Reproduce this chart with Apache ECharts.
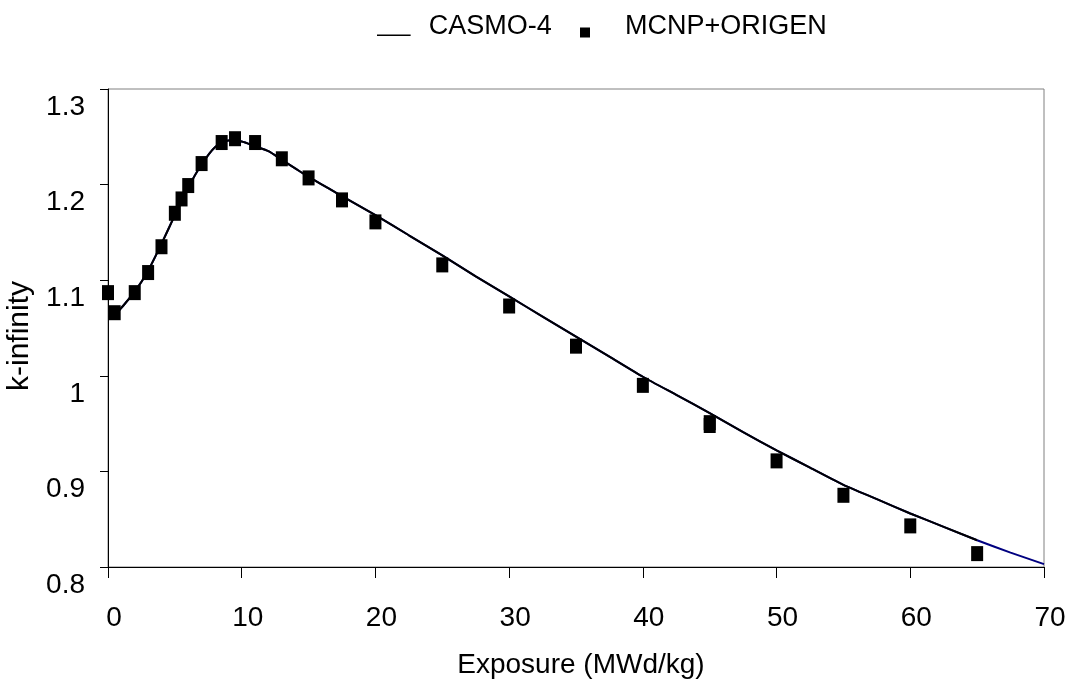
<!DOCTYPE html>
<html>
<head>
<meta charset="utf-8">
<script src="https://cdn.jsdelivr.net/npm/echarts@6/dist/echarts.min.js"></script>
<style>
html,body{margin:0;padding:0;background:#fff;}
#chart{width:1068px;height:684px;}
</style>
</head>
<body>
<div id="chart"></div>
<script>
// CASMO-4 curve (exposure MWd/kg, k-infinity)
var casmoX = [0.5,1,2,3,4,5,6,7,8,9,10,11,12,13,14,15,17.5,20,22.5,25,27.5,30,32.5,35,37.5,40,42.5,45,47.5,50,52.5,55,57.5,60,62.5,65,67.5,70];
var casmoK = [1.063,1.071,1.088,1.110,1.138,1.168,1.197,1.221,1.239,1.246,1.245,1.240,1.235,1.226,1.217,1.208,1.188,1.168,1.147,1.126,1.104,1.083,1.062,1.041,1.020,0.999,0.980,0.961,0.941,0.922,0.904,0.886,0.871,0.856,0.842,0.828,0.815,0.803];
// MCNP+ORIGEN points
var mcnpX = [0,0.5,2,3,4,5,5.5,6,7,8.5,9.5,11,13,15,17.5,20,25,30,35,40,45,45,50,55,60,65];
var mcnpK = [1.087,1.066,1.087,1.108,1.135,1.170,1.185,1.199,1.222,1.244,1.248,1.244,1.227,1.207,1.184,1.161,1.116,1.073,1.031,0.990,0.951,0.948,0.911,0.875,0.843,0.814];
var xTicks = {min:0, max:70, interval:10};
var yTicks = {min:0.8, max:1.3, interval:0.1};

var FONT = 'Liberation Sans';
function pairs(xs, ys, upto){
  var out=[];
  for(var i=0;i<xs.length;i++){ if(upto===undefined || xs[i]<=upto) out.push([xs[i], ys[i]]); }
  return out;
}
var chart = echarts.init(document.getElementById('chart'), null, {renderer:'canvas'});
chart.setOption({
  animation:false,
  backgroundColor:'#fff',
  textStyle:{fontFamily:FONT},
  grid:{left:108, right:24, top:89, bottom:117, show:true, borderColor:'#808080', borderWidth:1,
    backgroundColor:'transparent', containLabel:false, outerBoundsMode:'none'},
  legend:[{
    left:377, top:12, padding:0, itemWidth:34, itemHeight:18, selectedMode:false,
    data:[{name:'CASMO-4', icon:'path://M0,0L0.02,0L0.02,0.02Z M0,16.8L34,16.8L34,18.2L0,18.2Z', itemStyle:{color:'#000'}}],
    textStyle:{fontFamily:FONT, fontSize:27, color:'#000', lineHeight:30, padding:[0,0,0,13]}
  },{
    left:580, top:12, padding:0, itemWidth:10, itemHeight:21, selectedMode:false,
    data:[{name:'MCNP+ORIGEN', icon:'path://M0,0L0.02,0L0.02,0.02Z M0,11L10,11L10,21L0,21Z', itemStyle:{color:'#000'}}],
    textStyle:{fontFamily:FONT, fontSize:27, color:'#000', lineHeight:30, padding:[0,0,0,30]}
  }],
  xAxis:{
    type:'value', min:xTicks.min, max:xTicks.max, interval:xTicks.interval,
    name:'Exposure (MWd/kg)', nameLocation:'middle', nameGap:84,
    nameTextStyle:{fontFamily:FONT, fontSize:28, color:'#000', padding:[0,0,0,10]},
    axisLine:{show:true, onZero:false, lineStyle:{color:'#000', width:1}},
    axisTick:{show:true, inside:false, length:11, lineStyle:{color:'#000'}},
    axisLabel:{fontFamily:FONT, fontSize:28, color:'#000', margin:37, padding:[0,0,0,12]},
    splitLine:{show:false}
  },
  yAxis:{
    type:'value', min:yTicks.min, max:yTicks.max, interval:yTicks.interval,
    name:'k-infinity', nameLocation:'middle', nameGap:67, nameRotate:90,
    nameTextStyle:{fontFamily:FONT, fontSize:30, color:'#000', padding:[0,16,0,0]},
    axisLine:{show:true, onZero:false, lineStyle:{color:'#000', width:1}},
    axisTick:{show:true, inside:false, length:8, lineStyle:{color:'#000'}},
    axisLabel:{fontFamily:FONT, fontSize:28, color:'#000', margin:23, verticalAlign:'top', lineHeight:36,
      formatter:function(v){return String(Math.round(v*10)/10);}},
    splitLine:{show:false}
  },
  series:[{
    name:'CASMO-4 ext', type:'line', data:pairs(casmoX, casmoK),
    showSymbol:false, symbol:'none', smooth:0.2, z:2,
    lineStyle:{color:'#000080', width:2}, itemStyle:{color:'#000080'}
  },{
    name:'CASMO-4', type:'line', data:pairs(casmoX, casmoK, 65),
    showSymbol:false, symbol:'none', smooth:0.2, z:3,
    lineStyle:{color:'#000', width:2}, itemStyle:{color:'#000'}
  },{
    name:'MCNP+ORIGEN', type:'scatter', data:pairs(mcnpX, mcnpK),
    symbol:'rect', symbolSize:[12,15], clip:false, z:4,
    itemStyle:{color:'#000', opacity:1}
  }]
});
</script>
</body>
</html>
